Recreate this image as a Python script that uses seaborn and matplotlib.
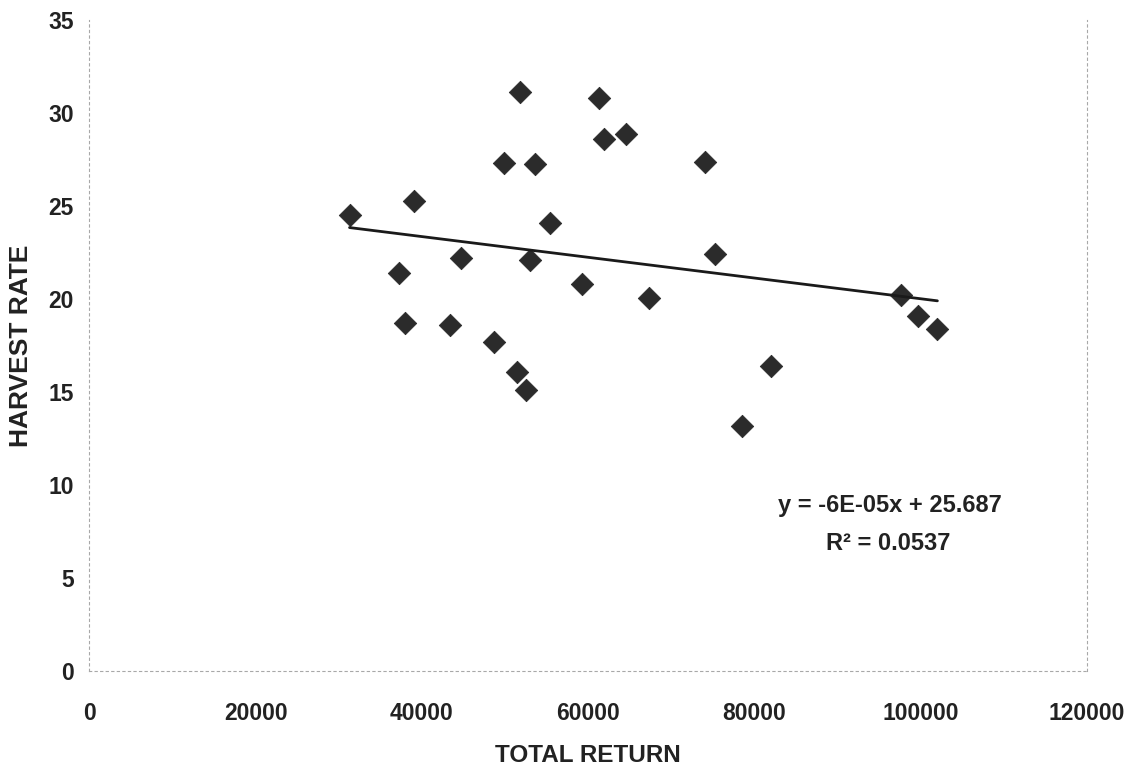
import numpy as np
import pandas as pd
import seaborn as sns
import matplotlib
matplotlib.use("Agg")
import matplotlib.pyplot as plt

# values
total_return = [31300, 37300, 38000, 39000, 43400, 44700, 48700, 49900, 51400,
                51800, 52500, 53000, 53600, 55400, 59300, 61300, 61900, 64500,
                67300, 74000, 75300, 78500, 82000, 97600, 99700, 102000]
harvest_rate = [24.5, 21.4, 18.7, 25.3, 18.6, 22.2, 17.7, 27.3, 16.1,
                31.15, 15.1, 22.1, 27.25, 24.1, 20.8, 30.8, 28.6, 28.9,
                20.05, 27.35, 22.4, 13.2, 16.4, 20.2, 19.1, 18.4]
eq_text = "y = -6E-05x + 25.687"
r2_text = "R\u00b2 = 0.0537"
x_ticks = [0, 20000, 40000, 60000, 80000, 100000, 120000]
y_ticks = [0, 5, 10, 15, 20, 25, 30, 35]

df = pd.DataFrame({"TOTAL RETURN": total_return, "HARVEST RATE": harvest_rate})

sns.set_style("white")
plt.rcParams["font.family"] = ["Liberation Sans", "DejaVu Sans"]

fig = plt.figure(figsize=(11.3, 7.69), dpi=100)
ax = fig.add_axes([0.079, 0.127, 0.883, 0.847])

# excel style linear trendline over the data range
sns.regplot(data=df, x="TOTAL RETURN", y="HARVEST RATE", ax=ax, ci=None,
            truncate=True, marker="D",
            scatter_kws={"s": 130, "color": "#2b2b2b", "edgecolor": "#2b2b2b",
                         "linewidths": 0.6, "alpha": 1},
            line_kws={"color": "#1a1a1a", "linewidth": 2.0})

ax.set_xlim(0, 120000)
ax.set_ylim(0, 35)
ax.set_xticks(x_ticks)
ax.set_yticks(y_ticks)
ax.tick_params(axis="both", length=0, labelsize=16.5)
ax.xaxis.set_tick_params(pad=22)
ax.yaxis.set_tick_params(pad=11)
for lab in ax.get_xticklabels() + ax.get_yticklabels():
    lab.set_fontweight("bold")
    lab.set_color("#222222")

ax.set_xlabel("TOTAL RETURN", fontsize=17.5, fontweight="bold", color="#222222", labelpad=14)
ax.set_ylabel("HARVEST RATE", fontsize=19, fontweight="bold", color="#222222", labelpad=11)

for side in ["left", "bottom", "right"]:
    ax.spines[side].set_linestyle((0, (2, 3)))
    ax.spines[side].set_color("#a8a8a8")
    ax.spines[side].set_linewidth(0.8)
ax.spines["top"].set_visible(False)

ax.text(96300, 8.9, eq_text, ha="center", va="center", fontsize=17,
        fontweight="bold", color="#222222")
ax.text(96100, 6.85, r2_text, ha="center", va="center", fontsize=17,
        fontweight="bold", color="#222222")

fig.savefig("out.png", dpi=100)
